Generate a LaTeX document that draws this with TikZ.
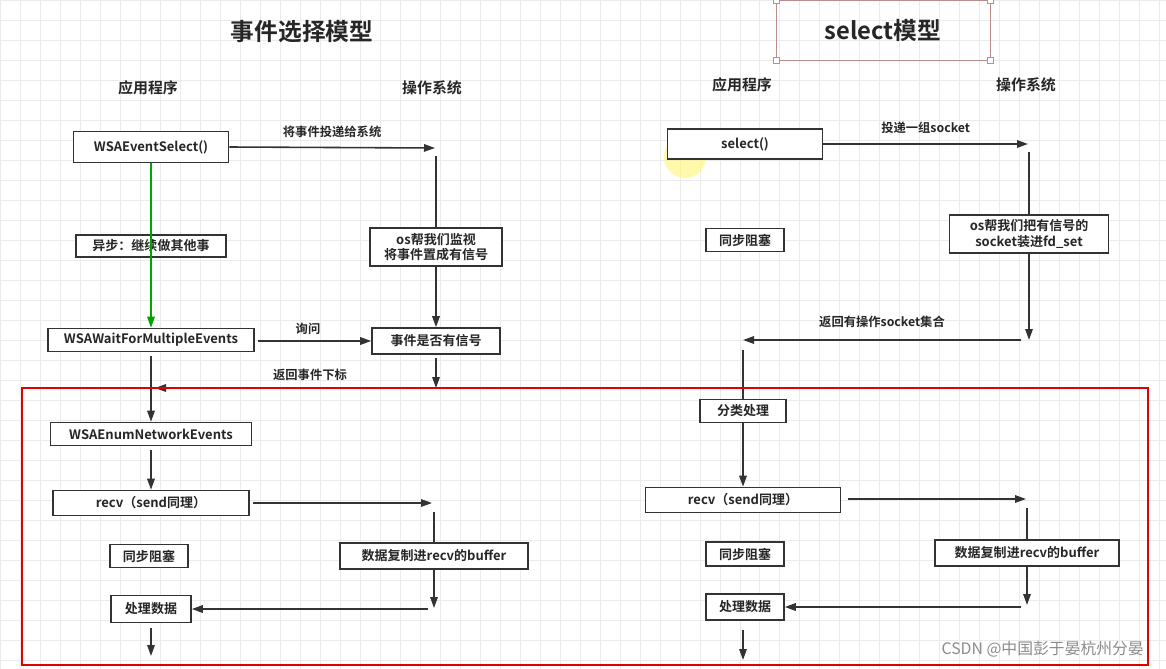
\documentclass[tikz,border=0pt]{standalone}
\usepackage{fontspec}
\setmainfont{Noto Sans CJK SC}[BoldFont={Noto Sans CJK SC Bold}]
\usetikzlibrary{arrows.meta}
\begin{document}
\begin{tikzpicture}[x=0.02cm,y=-0.02cm,
  box/.style={draw=black!80,line width=0.9pt,fill=white,font=\bfseries\fontsize{7.4}{8.8}\selectfont,inner sep=0pt,align=center,text=black!85},
  lbl/.style={font=\bfseries\fontsize{7}{8}\selectfont,text=black!85},
  head/.style={font=\bfseries\fontsize{8.5}{10}\selectfont,text=black!85},
  ttl/.style={font=\bfseries\fontsize{13.5}{15}\selectfont,text=black!85},
  ln/.style={draw=black!80,line width=0.9pt},
  arr/.style={ln,-{Triangle[length=0.22cm,width=0.15cm]}},
  garr/.style={draw=green!65!black,line width=0.9pt,-{Triangle[length=0.22cm,width=0.15cm]}}]
\useasboundingbox (0,0) rectangle (1166,669);
\fill[white] (0,0) rectangle (1166,669);
\draw[black!8,line width=0.4pt,step=0.4cm] (0,0) grid (1166,669);
% ---------- left ----------
\node[ttl] (t1) at (302,32) {事件选择模型};
\node[head] (h1) at (148,88) {应用程序};
\node[head] (h2) at (432,88) {操作系统};
\node[box,minimum width=3.1cm,minimum height=0.62cm] (wes) at (151,147) {WSAEventSelect()};
\coordinate (a1) at (435,148);
\draw[arr] (wes.east) -- (a1) node[lbl,midway,above=2pt] {将事件投递给系统};
\node[box,minimum width=2.64cm,minimum height=0.76cm] (mon) at (436,247) {os帮我们监视\\将事件置成有信号};
\coordinate (a2) at (436,156);
\draw[ln] (a2) -- (mon.north);
\node[box,minimum width=2.56cm,minimum height=0.52cm] (sig) at (436,341) {事件是否有信号};
\draw[arr] (mon.south) -- (sig.north);
\node[box,minimum width=4.12cm,minimum height=0.46cm] (wait) at (151,340) {WSAWaitForMultipleEvents};
\node[box,minimum width=3.0cm,minimum height=0.44cm] (async) at (151,246) {异步：继续做其他事};
\draw[garr] (wes.south) -- (wait.north);
\coordinate (w1) at (258,341);
\draw[arr] (w1) -- (sig.west);
\node[lbl] at (308,329) {询问};
\coordinate (s0) at (436,358); \coordinate (s1) at (436,388);
\draw[arr] (s0) -- (s1);
\coordinate (s2) at (430,388); \coordinate (s3) at (155,388);
\draw[arr] (s2) -- (s3);
\node[lbl] at (310,375) {返回事件下标};
\node[box,minimum width=4.02cm,minimum height=0.46cm] (enum) at (151,434) {WSAEnumNetworkEvents};
\coordinate (w2) at (151,356);
\draw[arr] (w2) -- (enum.north);
\node[box,minimum width=3.92cm,minimum height=0.5cm] (recv1) at (151,503) {recv（send同理）};
\coordinate (e1) at (151,450);
\draw[arr] (e1) -- (recv1.north);
\coordinate (r0) at (253,503); \coordinate (r1) at (432,503);
\draw[arr] (r0) -- (r1);
\node[box,minimum width=3.76cm,minimum height=0.52cm] (copy1) at (434,556) {数据复制进recv的buffer};
\coordinate (r2) at (434,512); \coordinate (r3) at (434,608);
\draw[ln] (r2) -- (copy1.north);
\draw[arr] (copy1.south) -- (r3);
\node[box,minimum width=1.56cm,minimum height=0.46cm] (blk1) at (149,556) {同步阻塞};
\node[box,minimum width=1.6cm,minimum height=0.54cm] (proc1) at (151,609) {处理数据};
\coordinate (r4) at (428,609);
\draw[arr] (r4) -- (proc1.east);
\coordinate (r6) at (151,628); \coordinate (r5) at (151,656);
\draw[arr] (r6) -- (r5);
% ---------- right ----------
\node[ttl] (t2) at (883,30) {select模型};
\draw[red!40!black!45,line width=0.5pt] (776,0) rectangle (990,60);
\foreach \p in {(776,0),(990,0),(776,60),(990,60)} \draw[red!40!black!45,fill=white,line width=0.5pt] \p +(-3,-3) rectangle +(3,3);
\node[head] (h3) at (742,85) {应用程序};
\node[head] (h4) at (1026,85) {操作系统};
\fill[yellow!55,opacity=0.6] (685,157) circle (0.42cm);
\node[box,minimum width=3.1cm,minimum height=0.6cm] (sel) at (745,144) {select()};
\coordinate (b1) at (1028,144);
\draw[arr] (sel.east) -- (b1) node[lbl,midway,above=2pt] {投递一组socket};
\node[box,minimum width=3.18cm,minimum height=0.76cm] (fd) at (1029,234) {os帮我们把有信号的\\socket装进fd\_set};
\coordinate (b2) at (1029,152); \coordinate (b3) at (1029,340);
\draw[ln] (b2) -- (fd.north);
\draw[arr] (fd.south) -- (b3);
\node[box,minimum width=1.56cm,minimum height=0.46cm] (blk2) at (745,240) {同步阻塞};
\coordinate (b4) at (1021,340); \coordinate (b5) at (743,340);
\draw[arr] (b4) -- (b5) node[lbl,midway,above=3pt] {返回有操作socket集合};
\node[box,minimum width=1.72cm,minimum height=0.46cm] (cls) at (743,411) {分类处理};
\node[box,minimum width=3.9cm,minimum height=0.5cm] (recv2) at (743,500) {recv（send同理）};
\coordinate (b6) at (743,350);
\draw[ln] (b6) -- (cls.north);
\draw[arr] (cls.south) -- (recv2.north);
\coordinate (b12) at (848,499); \coordinate (b7) at (1026,499);
\draw[arr] (b12) -- (b7);
\node[box,minimum width=3.68cm,minimum height=0.52cm] (copy2) at (1027,553) {数据复制进recv的buffer};
\coordinate (b8) at (1027,508); \coordinate (b9) at (1027,605);
\draw[ln] (b8) -- (copy2.north);
\draw[arr] (copy2.south) -- (b9);
\node[box,minimum width=1.56cm,minimum height=0.48cm] (blk3) at (745,554) {同步阻塞};
\node[box,minimum width=1.56cm,minimum height=0.52cm] (proc2) at (745,607) {处理数据};
\coordinate (b10) at (1021,607);
\draw[arr] (b10) -- (proc2.east);
\coordinate (b13) at (743,630); \coordinate (b11) at (743,660);
\draw[arr] (b13) -- (b11);
% red frame
\draw[red!90!black,line width=1pt] (22,388) rectangle (1148,665);
\node[font=\fontsize{9}{10}\selectfont,text=black!45,anchor=east] (wm) at (1150,649) {CSDN @中国彭于晏杭州分晏};
\end{tikzpicture}
\end{document}
